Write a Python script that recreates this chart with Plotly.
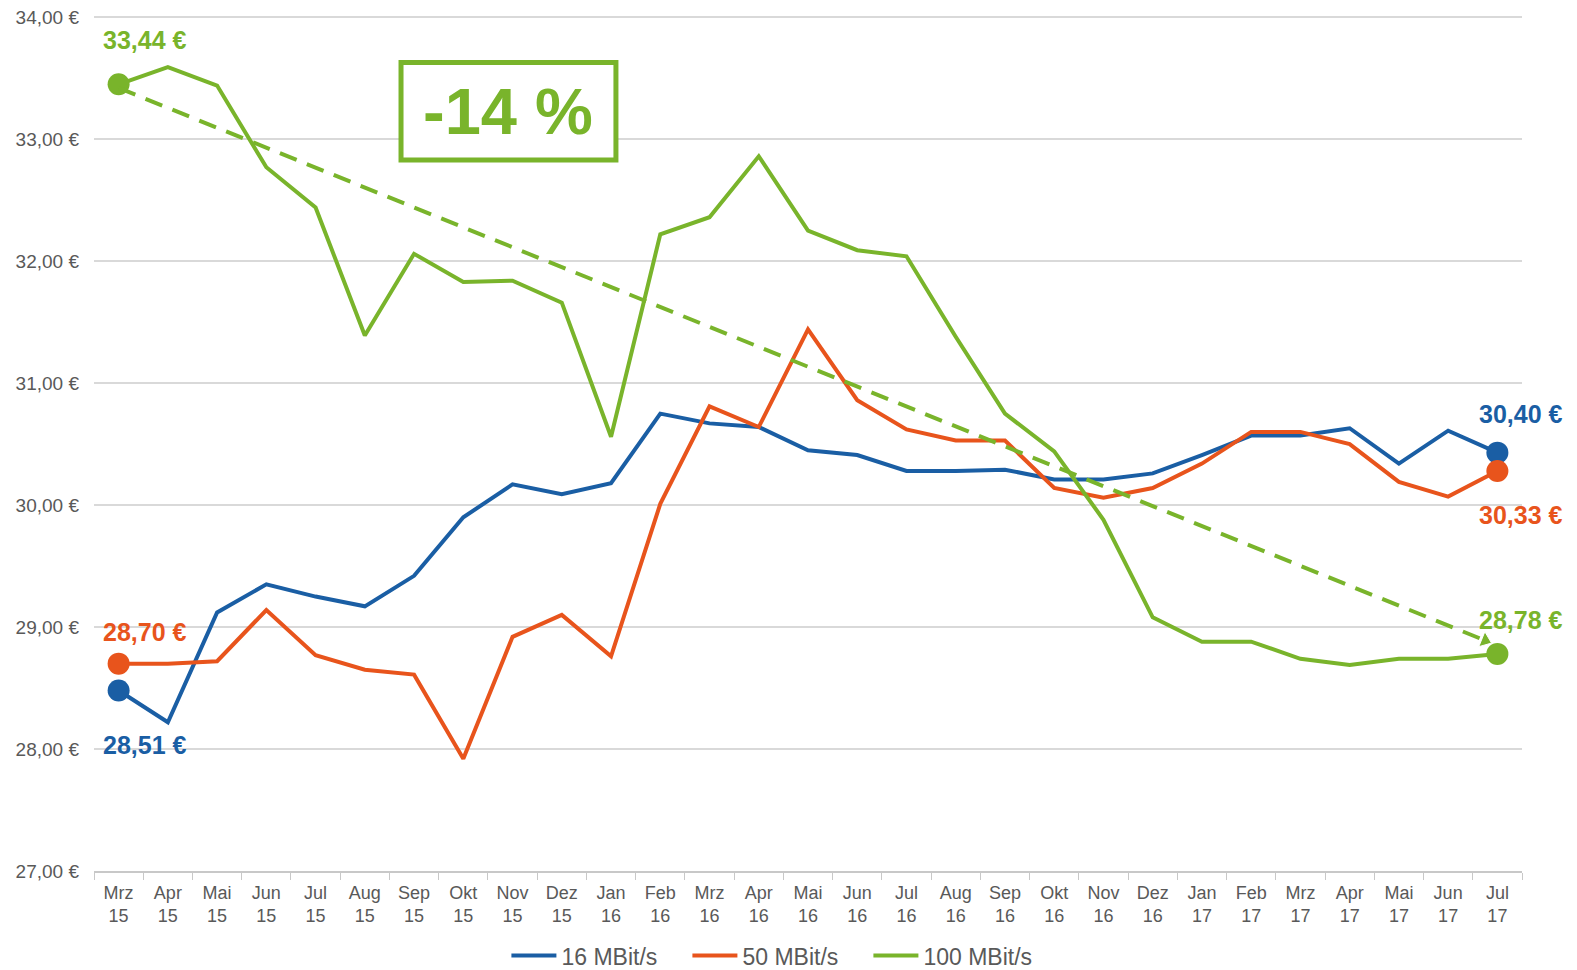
import plotly.graph_objects as go

months = ["Mrz", "Apr", "Mai", "Jun", "Jul", "Aug", "Sep", "Okt", "Nov", "Dez",
          "Jan", "Feb", "Mrz", "Apr", "Mai", "Jun", "Jul", "Aug", "Sep", "Okt", "Nov", "Dez",
          "Jan", "Feb", "Mrz", "Apr", "Mai", "Jun", "Jul"]
years = ["15"] * 10 + ["16"] * 12 + ["17"] * 7
tick_labels = [f"{m}<br>{y}" for m, y in zip(months, years)]

mbit16 = [28.48, 28.22, 29.12, 29.35, 29.25, 29.17, 29.42, 29.90, 30.17, 30.09,
          30.18, 30.75, 30.67, 30.64, 30.45, 30.41, 30.28, 30.28, 30.29, 30.21, 30.21, 30.26,
          30.41, 30.57, 30.57, 30.63, 30.34, 30.61, 30.43]
mbit50 = [28.70, 28.70, 28.72, 29.14, 28.77, 28.65, 28.61, 27.92, 28.92, 29.10,
          28.76, 30.01, 30.81, 30.64, 31.44, 30.86, 30.62, 30.53, 30.53, 30.14, 30.06, 30.14,
          30.34, 30.60, 30.60, 30.50, 30.19, 30.07, 30.28]
mbit100 = [33.45, 33.59, 33.44, 32.77, 32.44, 31.39, 32.06, 31.83, 31.84, 31.66,
           30.56, 32.22, 32.36, 32.86, 32.25, 32.09, 32.04, 31.38, 30.75, 30.44, 29.88, 29.08,
           28.88, 28.88, 28.74, 28.69, 28.74, 28.74, 28.78]

series_names = ["16 MBit/s", "50 MBit/s", "100 MBit/s"]
series_values = [mbit16, mbit50, mbit100]
series_colors = ["#1A5EA4", "#E8541C", "#79B42B"]

start_labels = [28.51, 28.70, 33.44]
end_labels = [30.40, 30.33, 28.78]

trend_x = [0, 27.75]
trend_y = [33.42, 28.89]
change_text = "-14 %"

y_ticks = [27, 28, 29, 30, 31, 32, 33, 34]

FONT = "Liberation Sans, Arial, sans-serif"
GREY = "#595959"


def fmt(v):
    return f"{v:.2f}".replace(".", ",") + " €"


x_idx = list(range(len(months)))
n = len(months)

fig = go.Figure()

for name, vals, col in zip(series_names, series_values, series_colors):
    fig.add_trace(go.Scatter(
        x=x_idx, y=vals, name=name, mode="lines",
        line=dict(color=col, width=4), hoverinfo="y",
    ))
for name, vals, col in zip(series_names, series_values, series_colors):
    fig.add_trace(go.Scatter(
        x=[x_idx[0], x_idx[-1]], y=[vals[0], vals[-1]], mode="markers",
        showlegend=False, opacity=1,
        marker=dict(size=22, color=col, opacity=1, line=dict(width=0)),
        hoverinfo="y",
    ))

# trend arrow
fig.add_trace(go.Scatter(
    x=trend_x, y=trend_y, mode="lines+markers", showlegend=False,
    line=dict(color=series_colors[2], width=4, dash="18px,11px"),
    marker=dict(size=[0, 14], symbol="triangle-up", angleref="previous",
                color=series_colors[2], opacity=1),
    hoverinfo="skip",
))

start_shift = [-55, 32, 44]
for i, (lab, vals, col) in enumerate(zip(start_labels, series_values, series_colors)):
    fig.add_annotation(x=0, y=vals[0], text=f"<b>{fmt(lab)}</b>", showarrow=False,
                       xanchor="left", xshift=-18, yshift=start_shift[i],
                       font=dict(family=FONT, size=25, color=col))
end_shift = [39, -44, 34]
for i, (lab, vals, col) in enumerate(zip(end_labels, series_values, series_colors)):
    fig.add_annotation(x=n - 1, y=vals[-1], text=f"<b>{fmt(lab)}</b>", showarrow=False,
                       xanchor="center", xshift=24, yshift=end_shift[i],
                       font=dict(family=FONT, size=25, color=col))

# -14 % box
fig.add_shape(type="rect", xref="paper", yref="paper",
              x0=0.2150, x1=0.3655, y0=0.8317, y1=0.9457,
              line=dict(color=series_colors[2], width=5), fillcolor="white", layer="above")
fig.add_annotation(xref="paper", yref="paper", x=0.2902, y=0.8887,
                   text=f"<b>{change_text}</b>", showarrow=False,
                   xanchor="center", yanchor="middle",
                   font=dict(family=FONT, size=65, color=series_colors[2]))

# page body adds an 8px offset; size the figure so the plot lands where the reference has it
fig.update_layout(
    width=1569, height=962,
    margin=dict(l=86, r=55, t=8, b=99, autoexpand=False),
    plot_bgcolor="white", paper_bgcolor="white",
    font=dict(family=FONT, color=GREY),
    showlegend=True,
    legend=dict(orientation="h", x=0.2888, xanchor="left", y=-0.099, yanchor="middle",
                font=dict(family=FONT, size=23, color=GREY),
                itemwidth=45, tracegroupgap=0, traceorder="normal",
                entrywidth=121, entrywidthmode="pixels"),
    hovermode="closest",
)

fig.update_xaxes(
    range=[-0.5, n - 0.5], tickmode="array", tickvals=x_idx, ticktext=tick_labels,
    ticks="outside", ticklen=4, tickcolor="rgba(0,0,0,0)",
    tickfont=dict(family=FONT, size=18, color=GREY),
    showgrid=False, zeroline=False, automargin=False,
    showline=True, linecolor="#C8C8C8", linewidth=2,
    minor=dict(ticks="outside", tickmode="array",
               tickvals=[i - 0.5 for i in range(n + 1)],
               ticklen=7, tickcolor="#C8C8C8", tickwidth=1, showgrid=False),
)
fig.update_yaxes(
    range=[27, 34.01], tickmode="array", tickvals=y_ticks,
    ticktext=[fmt(v) for v in y_ticks],
    tickfont=dict(family=FONT, size=19, color=GREY),
    ticklabeloverflow="allow",
    showgrid=True, gridcolor="#D9D9D9", gridwidth=1.5, automargin=False,
    zeroline=False, showline=False, ticklabelstandoff=14,
)

fig.write_html("out.html")
